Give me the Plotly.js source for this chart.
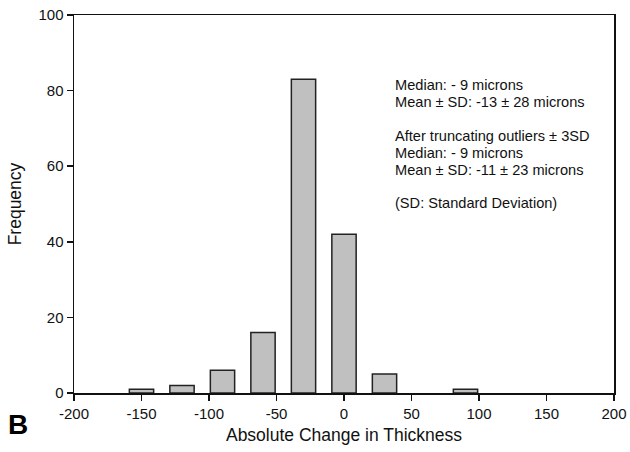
<!DOCTYPE html>
<html><head><meta charset="utf-8">
<script src="https://cdn.plot.ly/plotly-3.0.1.min.js"></script>
<style>html,body{margin:0;padding:0;background:#fff}</style>
</head><body><div id="chart" style="width:630px;height:452px"></div>
<script>
const binCenters = [-150, -120, -90, -60, -30, 0, 30, 60, 90];
const frequency = [1, 2, 6, 16, 83, 42, 5, 0, 1];
const xTicks = [-200, -150, -100, -50, 0, 50, 100, 150, 200];
const yTicks = [0, 20, 40, 60, 80, 100];
const statsLines = [
  "Median: - 9 microns",
  "Mean \u00b1 SD: -13 \u00b1 28 microns",
  "",
  "After truncating outliers \u00b1 3SD",
  "Median: - 9 microns",
  "Mean \u00b1 SD: -11 \u00b1 23 microns",
  "",
  "(SD: Standard Deviation)"
];
const font = "Liberation Sans, Arial, sans-serif";
const plotTop = 15, plotBottom = 392.7, plotLeft = 74, plotRight = 614;
const ph = plotBottom - plotTop, pw = plotRight - plotLeft;
const trace = {
  type: "bar", x: binCenters, y: frequency, width: 18,
  marker: {color: "#c0c0c0", line: {color: "#222", width: frequency.map(v => v > 0 ? 1.5 : 0)}}
};
const anns = [];
statsLines.forEach((t, i) => {
  if (!t) return;
  anns.push({xref: "paper", yref: "paper", x: (393 - plotLeft) / pw, y: (plotBottom - (85 + i * 16.9)) / ph,
    xanchor: "left", yanchor: "middle", align: "left", showarrow: false,
    text: t, font: {size: 14.6, family: font, color: "#111"}});
});
anns.push({xref: "paper", yref: "paper", x: (6 - plotLeft) / pw, y: (plotBottom - 424) / ph,
  xanchor: "left", yanchor: "middle", showarrow: false,
  text: "<b>B</b>", font: {size: 28, family: font, color: "#000"}});
const axisCommon = {
  showgrid: false, zeroline: false, showline: true, mirror: true,
  linecolor: "#111", linewidth: 1.5, ticks: "outside", ticklen: 6, tickwidth: 1.5, tickcolor: "#111",
  tickfont: {size: 15, family: font, color: "#111"}
};
const layout = {
  width: 630, height: 452,
  margin: {l: plotLeft, r: 630 - plotRight, t: plotTop, b: 452 - plotBottom},
  paper_bgcolor: "#fff", plot_bgcolor: "#fff",
  showlegend: false,
  font: {family: font, size: 13, color: "#111"},
  xaxis: Object.assign({}, axisCommon, {
    range: [-200, 200], tickvals: xTicks, ticktext: xTicks.map(String),
    title: {text: "Absolute Change in Thickness", font: {size: 17.5, family: font, color: "#111"}, standoff: 8}
  }),
  yaxis: Object.assign({}, axisCommon, {
    range: [0, 100], tickvals: yTicks, ticktext: yTicks.map(String),
    title: {text: "Frequency", font: {size: 17.5, family: font, color: "#111"}, standoff: 12}
  }),
  annotations: anns
};
Plotly.newPlot("chart", [trace], layout, {displayModeBar: false, staticPlot: true});
</script></body></html>
